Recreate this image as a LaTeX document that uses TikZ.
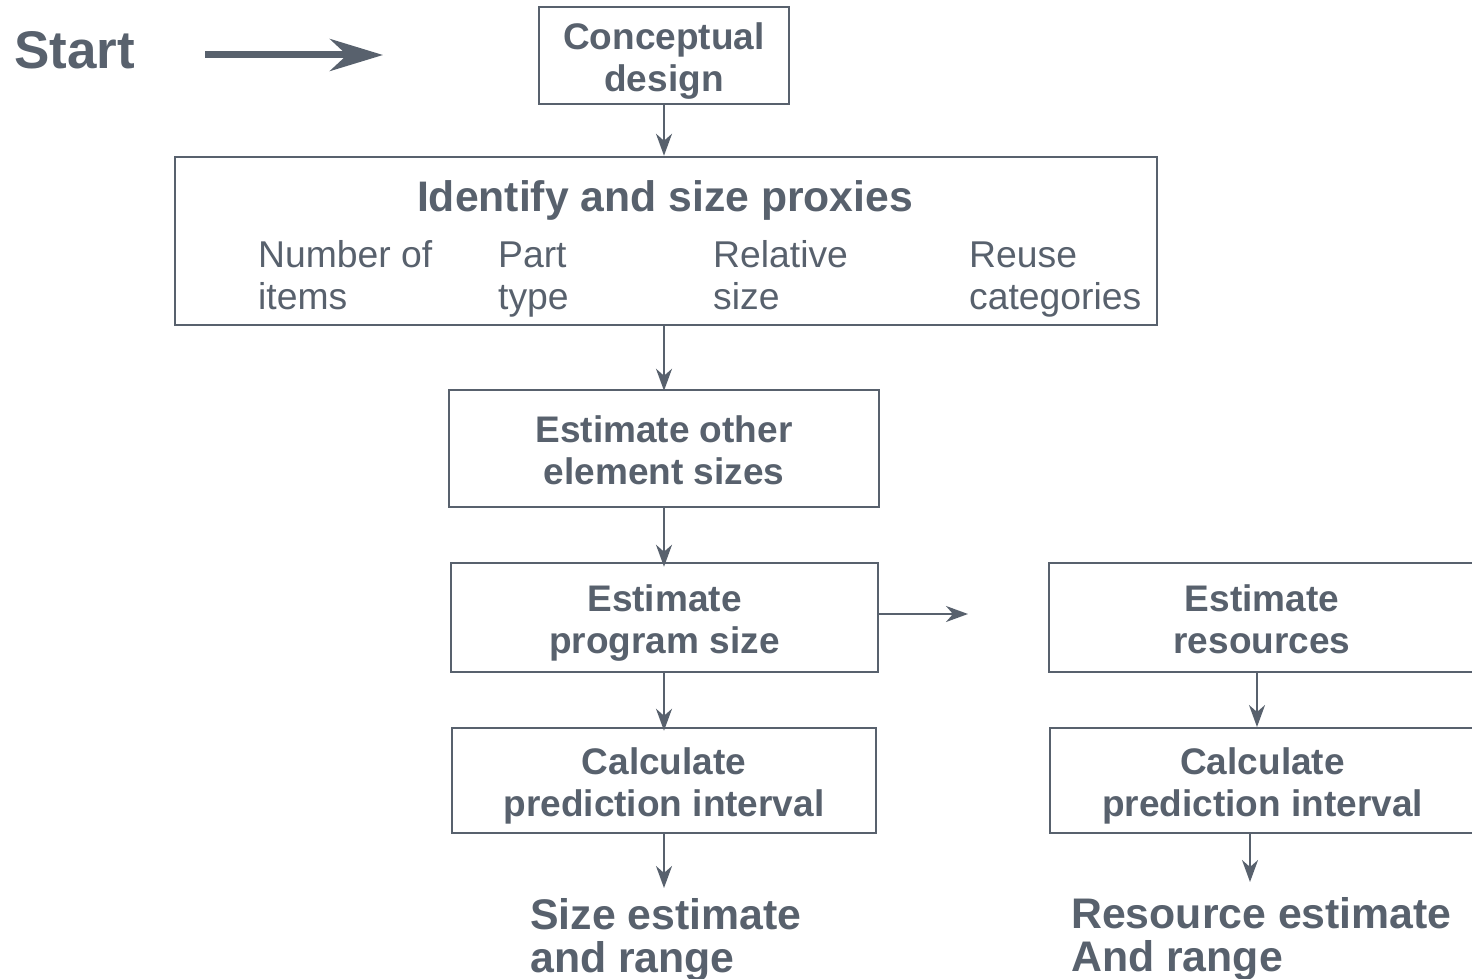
\documentclass[tikz,border=0pt]{standalone}
\usepackage{fontspec}
\setmainfont{Liberation Sans}
\usetikzlibrary{arrows.meta}
\definecolor{ink}{RGB}{88,97,109}
\newcommand{\mytop}{\rule{0pt}{38.5pt}}
\newcommand{\mybot}{\rule[-9pt]{0pt}{9pt}}
\begin{document}
\begin{tikzpicture}[x=1pt,y=-1pt,
  every node/.style={text=ink,inner sep=0pt},
  box/.style={draw=ink,line width=2.5pt,fill=white,align=center,
    font=\bfseries\fontsize{37}{42}\selectfont},
  item/.style={align=left,anchor=west,font=\fontsize{37.3}{42}\selectfont},
  result/.style={align=left,anchor=west,font=\bfseries\fontsize{42.8}{43}\selectfont},
  conn/.style={draw=ink,line width=2pt,-{Stealth[length=22pt,width=16pt,inset=7pt]}},
  bigconn/.style={draw=ink,line width=7pt,-{Stealth[length=53pt,width=32pt,inset=17pt]}}]
\useasboundingbox (0,0) rectangle (1472,979);
\clip (0,0) rectangle (1472,979);

\node[font=\bfseries\fontsize{53}{60}\selectfont,anchor=west] (start) at (14,50) {Start};
\coordinate (sa) at (205,55);
\coordinate (sb) at (383,55);
\draw[bigconn] (sa) -- (sb);

\node[box,minimum width=250pt,minimum height=97pt] (concept) at (664,55.5) {\mytop Conceptual\\design\mybot};

\node[box,minimum width=982pt,minimum height=168pt] (identify) at (666,241) {};
\node[font=\bfseries\fontsize{42.7}{48}\selectfont] (title) at (665,200) {Identify and size proxies};
\node[item] (i1) at (258,273.6) {\mytop Number of\\items\mybot};
\node[item] (i2) at (498,273.6) {\mytop Part\\type\mybot};
\node[item] (i3) at (713,273.6) {\mytop Relative\\size\mybot};
\node[item] (i4) at (969,273.6) {\mytop Reuse\\categories\mybot};

\node[box,minimum width=430pt,minimum height=117pt] (other) at (664,448.5) {\mytop Estimate other\\element sizes\mybot};
\node[box,minimum width=427pt,minimum height=109pt] (prog) at (664.5,617.5) {\mytop Estimate\\program size\mybot};
\node[box,minimum width=424pt,minimum height=105pt] (calcL) at (664,780.5) {\mytop Calculate\\prediction interval\mybot};
\node[box,minimum width=426pt,minimum height=109pt] (res) at (1262,617.5) {\mytop Estimate\\resources\mybot};
\node[box,minimum width=425pt,minimum height=105pt] (calcR) at (1262.5,780.5) {\mytop Calculate\\prediction interval\mybot};

\node[result] (sizeest) at (530,940) {Size estimate\\and range};
\node[result] (resest) at (1071,939) {Resource estimate\\And range};

\coordinate (pa) at (968,614);

\draw[conn] (concept.south) -- (identify.north -| concept.south);
\draw[conn] (identify.south -| concept.south) -- ([yshift=-2pt]other.north -| concept.south);
\draw[conn] (other.south -| concept.south) -- ([yshift=-5pt]prog.north -| concept.south);
\draw[conn] (prog.south -| concept.south) -- ([yshift=-4pt]calcL.north -| concept.south);
\draw[conn] (calcL.south -| concept.south) -- (664,888);
\draw[conn] (prog.east |- pa) -- (pa);
\draw[conn] (1257,672) -- (1257,727);
\draw[conn] (1250,833) -- (1250,882);
\end{tikzpicture}
\end{document}
